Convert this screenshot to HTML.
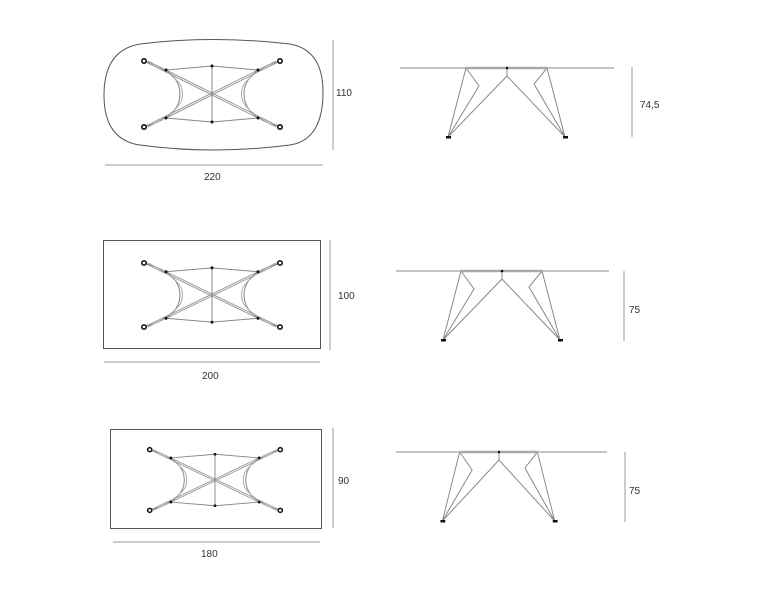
<!DOCTYPE html>
<html><head><meta charset="utf-8"><style>
html,body{margin:0;padding:0;background:#fff;}
svg{display:block;}
text{font-family:"Liberation Sans",sans-serif;font-size:10px;fill:#333;}
</style></head><body>
<svg width="771" height="600" viewBox="0 0 771 600" xmlns="http://www.w3.org/2000/svg">
<defs>
<g id="legs" fill="none" stroke="#888" stroke-width="1">
  <!-- feet dx ±68 dy ±33 -->
  <path d="M-68,-33 L46,24 M-68,33 L46,-24 M68,-33 L-46,24 M68,33 L-46,-24" stroke="#999"/>
  <path d="M-46,-24 L0,-28 L46,-24 M-46,24 L0,28 L46,24 M0,-28 L0,28"/>
  <path d="M-68,-33 Q-40,-25 -34,-10 Q-30,0 -34,10 Q-40,25 -68,33"/>
  <path d="M-64,-33 Q-38,-20 -31,-8 Q-28,0 -31,8 Q-38,20 -64,33" stroke="#aaa"/>
  <path d="M68,-33 Q40,-25 34,-10 Q30,0 34,10 Q40,25 68,33"/>
  <path d="M64,-33 Q38,-20 31,-8 Q28,0 31,8 Q38,20 64,33" stroke="#aaa"/>
  <g fill="#fff" stroke="#111" stroke-width="1.6">
    <circle cx="-68" cy="-33" r="2.2"/><circle cx="68" cy="-33" r="2.2"/>
    <circle cx="-68" cy="33" r="2.2"/><circle cx="68" cy="33" r="2.2"/>
  </g>
  <g fill="#111" stroke="none">
    <circle cx="-46" cy="-24" r="1.5"/><circle cx="46" cy="-24" r="1.5"/>
    <circle cx="-46" cy="24" r="1.5"/><circle cx="46" cy="24" r="1.5"/>
    <circle cx="0" cy="-28" r="1.5"/><circle cx="0" cy="28" r="1.5"/>
  </g>
</g>
<g id="side" fill="none" stroke="#888" stroke-width="1">
  <path d="M-59,69 L-41,0 L-28,18 L-59,69 L0,8 L0,0 M0,8 L58,69 L40,0 L27,16 L58,69"/>
  <path d="M-41,0 L40,0" stroke="#aaa" stroke-width="2.5"/>
  <rect x="-61" y="68" width="5" height="2.5" fill="#111" stroke="none"/>
  <rect x="56" y="68" width="5" height="2.5" fill="#111" stroke="none"/>
  <circle cx="0" cy="0" r="1.3" fill="#111" stroke="none"/>
</g>
</defs>

<!-- Row 1 -->
<path d="M140,44 Q212,35 290,44 Q323,50 323,92 Q323,140 290,145 Q212,155 140,145 Q104,140 104,95 Q104,50 140,44 Z" fill="none" stroke="#555" stroke-width="1"/>
<use href="#legs" transform="translate(212,94)"/>
<line x1="333" y1="40" x2="333" y2="150" stroke="#999"/>
<text x="336" y="96">110</text>
<line x1="105" y1="165" x2="323" y2="165" stroke="#999"/>
<text x="204" y="180">220</text>
<line x1="400" y1="68" x2="614" y2="68" stroke="#888"/>
<use href="#side" transform="translate(507,68)"/>
<line x1="632" y1="67" x2="632" y2="137" stroke="#999"/>
<text x="640" y="108">74,5</text>

<!-- Row 2 -->
<rect x="103.5" y="240.5" width="217" height="108" fill="none" stroke="#555"/>
<use href="#legs" transform="translate(212,295) scale(1,0.97)"/>
<line x1="330" y1="240" x2="330" y2="350" stroke="#999"/>
<text x="338" y="299">100</text>
<line x1="104" y1="362" x2="320" y2="362" stroke="#999"/>
<text x="202" y="379">200</text>
<line x1="396" y1="271" x2="609" y2="271" stroke="#888"/>
<use href="#side" transform="translate(502,271)"/>
<line x1="624" y1="271" x2="624" y2="341" stroke="#999"/>
<text x="629" y="313">75</text>

<!-- Row 3 -->
<rect x="110.5" y="429.5" width="211" height="99" fill="none" stroke="#555"/>
<use href="#legs" transform="translate(215,480) scale(0.96,0.92)"/>
<line x1="333" y1="428" x2="333" y2="528" stroke="#999"/>
<text x="338" y="484">90</text>
<line x1="113" y1="542" x2="320" y2="542" stroke="#999"/>
<text x="201" y="557">180</text>
<line x1="396" y1="452" x2="607" y2="452" stroke="#888"/>
<use href="#side" transform="translate(499,452) scale(0.96,1)"/>
<line x1="625" y1="452" x2="625" y2="522" stroke="#999"/>
<text x="629" y="494">75</text>
</svg>
</body></html>
